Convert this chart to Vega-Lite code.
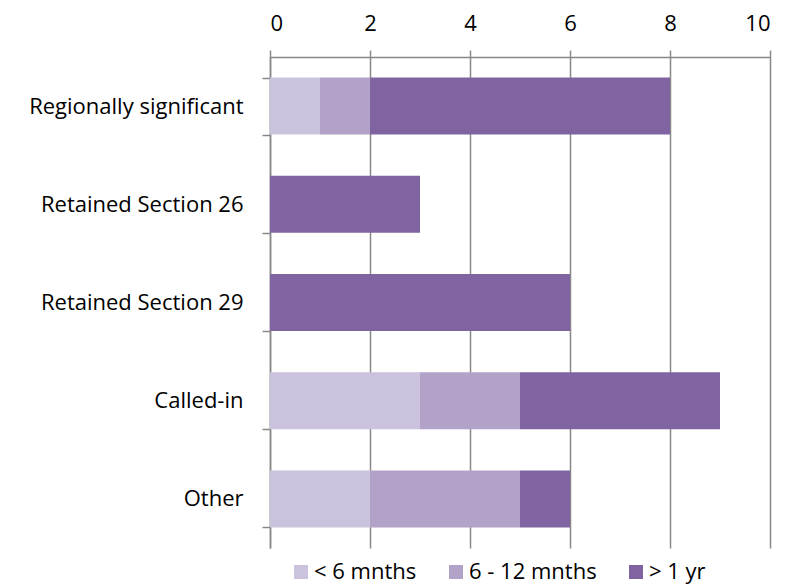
{
  "$schema": "https://vega.github.io/schema/vega-lite/v6.json",
  "width": 500,
  "height": 491,
  "autosize": "none",
  "padding": {"left": 270, "top": 57, "right": 15, "bottom": 38},
  "background": "white",
  "config": {
    "view": {"stroke": null},
    "font": "Open Sans"
  },
  "data": {
    "values": [
      {"type": "Regionally significant", "period": "< 6 mnths", "k": 1, "count": 1},
      {"type": "Regionally significant", "period": "6 - 12 mnths", "k": 2, "count": 1},
      {"type": "Regionally significant", "period": "> 1 yr", "k": 3, "count": 6},
      {"type": "Retained Section 26", "period": "< 6 mnths", "k": 1, "count": 0},
      {"type": "Retained Section 26", "period": "6 - 12 mnths", "k": 2, "count": 0},
      {"type": "Retained Section 26", "period": "> 1 yr", "k": 3, "count": 3},
      {"type": "Retained Section 29", "period": "< 6 mnths", "k": 1, "count": 0},
      {"type": "Retained Section 29", "period": "6 - 12 mnths", "k": 2, "count": 0},
      {"type": "Retained Section 29", "period": "> 1 yr", "k": 3, "count": 6},
      {"type": "Called-in", "period": "< 6 mnths", "k": 1, "count": 3},
      {"type": "Called-in", "period": "6 - 12 mnths", "k": 2, "count": 2},
      {"type": "Called-in", "period": "> 1 yr", "k": 3, "count": 4},
      {"type": "Other", "period": "< 6 mnths", "k": 1, "count": 2},
      {"type": "Other", "period": "6 - 12 mnths", "k": 2, "count": 3},
      {"type": "Other", "period": "> 1 yr", "k": 3, "count": 1}
    ]
  },
  "mark": {"type": "bar"},
  "encoding": {
    "y": {
      "field": "type",
      "type": "nominal",
      "sort": ["Regionally significant", "Retained Section 26", "Retained Section 29", "Called-in", "Other"],
      "scale": {"paddingInner": 0.42, "paddingOuter": 0.21},
      "axis": {
        "title": null,
        "domainColor": "#888888",
        "domainWidth": 1.5,
        "tickColor": "#888888",
        "tickWidth": 1.5,
        "tickSize": 8,
        "tickBand": "extent",
        "labelPadding": 19,
        "labelFontSize": 22,
        "labelColor": "#000000",
        "labelFont": "Open Sans",
        "labelLimit": 300,
        "grid": false
      }
    },
    "x": {
      "field": "count",
      "type": "quantitative",
      "stack": "zero",
      "scale": {"domain": [0, 10], "nice": false},
      "axis": {
        "orient": "top",
        "title": null,
        "values": [0, 2, 4, 6, 8, 10],
        "grid": true,
        "gridColor": "#888888",
        "gridWidth": 1.5,
        "domainColor": "#888888",
        "domainWidth": 1.5,
        "tickColor": "#888888",
        "tickWidth": 1.5,
        "tickSize": 7,
        "labelPadding": 15,
        "labelFontSize": 22,
        "labelColor": "#000000",
        "labelFont": "Open Sans"
      }
    },
    "color": {
      "field": "period",
      "type": "nominal",
      "sort": ["< 6 mnths", "6 - 12 mnths", "> 1 yr"],
      "scale": {"domain": ["< 6 mnths", "6 - 12 mnths", "> 1 yr"], "range": ["#CBC2DE", "#B3A2C7", "#8064A2"]},
      "legend": {
        "title": null,
        "orient": "none",
        "direction": "horizontal",
        "legendX": 20,
        "legendY": 504,
        "symbolType": "square",
        "symbolSize": 196,
        "symbolStrokeWidth": 0,
        "labelFontSize": 22,
        "labelColor": "#000000",
        "labelFont": "Open Sans",
        "labelOffset": 2,
        "labelLimit": 300,
        "columnPadding": 28
      }
    },
    "order": {"field": "k", "type": "quantitative"}
  }
}
